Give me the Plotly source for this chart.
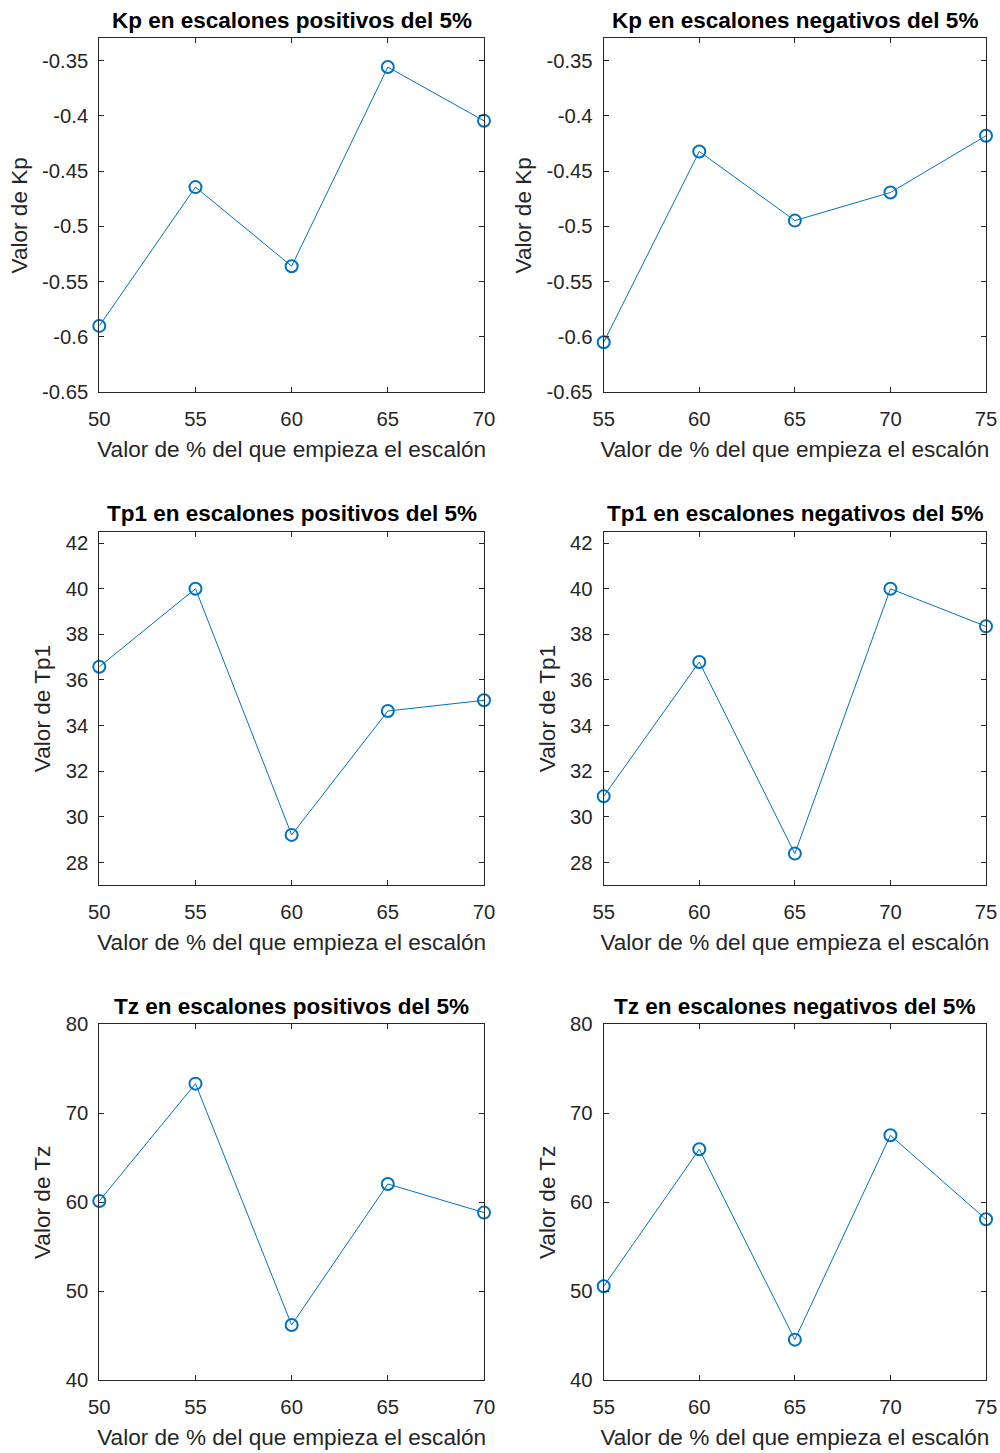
import plotly.graph_objects as go

# Step start values (% of span) for positive and negative 5% steps
x_pos = [50, 55, 60, 65, 70]
x_neg = [55, 60, 65, 70, 75]
x_ticks_pos = [50, 55, 60, 65, 70]
x_ticks_neg = [55, 60, 65, 70, 75]

# Identified parameters
kp_pos = [-0.590, -0.4645, -0.536, -0.356, -0.4046]
kp_neg = [-0.6048, -0.4323, -0.4948, -0.4694, -0.4181]
tp1_pos = [36.58, 40.0, 29.21, 34.64, 35.11]
tp1_neg = [30.90, 36.79, 28.39, 40.0, 38.35]
tz_pos = [60.15, 73.33, 46.22, 62.06, 58.84]
tz_neg = [50.56, 65.96, 44.57, 67.53, 58.09]

# Y tick positions and labels
kp_ticks = [-0.65, -0.6, -0.55, -0.5, -0.45, -0.4, -0.35]
kp_ticktext = ["-0.65", "-0.6", "-0.55", "-0.5", "-0.45", "-0.4", "-0.35"]
tp1_ticks = [28, 30, 32, 34, 36, 38, 40, 42]
tz_ticks = [40, 50, 60, 70, 80]

titles = [
    "Kp en escalones positivos del 5%", "Kp en escalones negativos del 5%",
    "Tp1 en escalones positivos del 5%", "Tp1 en escalones negativos del 5%",
    "Tz en escalones positivos del 5%", "Tz en escalones negativos del 5%",
]
ylabels = ["Valor de Kp", "Valor de Kp", "Valor de Tp1", "Valor de Tp1",
           "Valor de Tz", "Valor de Tz"]
xlabel = "Valor de % del que empieza el escalón"

FONT = "Liberation Sans, Arial, Helvetica, sans-serif"
AX = "#262626"
BLUE = "#0072BD"
W, H = 1000, 1453

# Panel boxes in pixels: (left, right, top, bottom)
cols = [(99.3, 484.0), (603.7, 986.0)]
rows = [(38.3, 392.3), (531.7, 885.3), (1024.3, 1380.3)]

panels = [
    (x_pos, kp_pos, x_ticks_pos, [50, 70], kp_ticks, kp_ticktext, [-0.65, -0.33]),
    (x_neg, kp_neg, x_ticks_neg, [55, 75], kp_ticks, kp_ticktext, [-0.65, -0.33]),
    (x_pos, tp1_pos, x_ticks_pos, [50, 70], tp1_ticks, [str(v) for v in tp1_ticks], [27, 42.5]),
    (x_neg, tp1_neg, x_ticks_neg, [55, 75], tp1_ticks, [str(v) for v in tp1_ticks], [27, 42.5]),
    (x_pos, tz_pos, x_ticks_pos, [50, 70], tz_ticks, [str(v) for v in tz_ticks], [40, 80]),
    (x_neg, tz_neg, x_ticks_neg, [55, 75], tz_ticks, [str(v) for v in tz_ticks], [40, 80]),
]

fig = go.Figure()
layout = dict(
    width=W, height=H,
    margin=dict(l=0, r=0, t=0, b=0, autoexpand=False),
    paper_bgcolor="white", plot_bgcolor="white",
    showlegend=False,
    font=dict(family=FONT, color=AX),
    annotations=[],
)

for i, (xs, ys, xt, xr, yt, ytt, yr) in enumerate(panels):
    r, c = divmod(i, 2)
    left, right = cols[c]
    top, bottom = rows[r]
    n = i + 1
    xa = "x" if n == 1 else f"x{n}"
    ya = "y" if n == 1 else f"y{n}"
    fig.add_trace(go.Scatter(
        x=xs, y=ys, xaxis=xa, yaxis=ya, mode="lines+markers",
        line=dict(color=BLUE, width=1),
        marker=dict(symbol="circle-open", size=12, color=BLUE,
                    line=dict(color=BLUE, width=2)),
        cliponaxis=False,
    ))
    common = dict(
        showline=True, linecolor=AX, linewidth=1, mirror="ticks",
        ticks="inside", ticklen=5, tickwidth=1, tickcolor=AX,
        showgrid=False, zeroline=False, automargin=False,
        tickfont=dict(family=FONT, size=20.3, color=AX),
    )
    layout["xaxis" if n == 1 else f"xaxis{n}"] = dict(
        common, domain=[left / W, right / W], anchor=ya,
        range=xr, tickvals=xt, ticktext=[str(v) for v in xt],
        ticklabelstandoff=8,
        title=dict(text=xlabel, font=dict(family=FONT, size=22.6, color=AX),
                   standoff=12),
    )
    layout["yaxis" if n == 1 else f"yaxis{n}"] = dict(
        common, domain=[1 - bottom / H, 1 - top / H], anchor=xa,
        range=yr, tickvals=yt, ticktext=ytt,
        ticklabelstandoff=6,
        title=dict(text=ylabels[i], font=dict(family=FONT, size=22.6, color=AX),
                   standoff=8),
    )
    layout["annotations"].append(dict(
        text=f"<b>{titles[i]}</b>", xref="paper", yref="paper",
        x=(left + right) / 2 / W, y=1 - top / H,
        xanchor="center", yanchor="middle", yshift=18, showarrow=False,
        font=dict(family=FONT, size=22.5, color="black"),
    ))

fig.update_layout(**layout)
fig.write_html("out.html")
